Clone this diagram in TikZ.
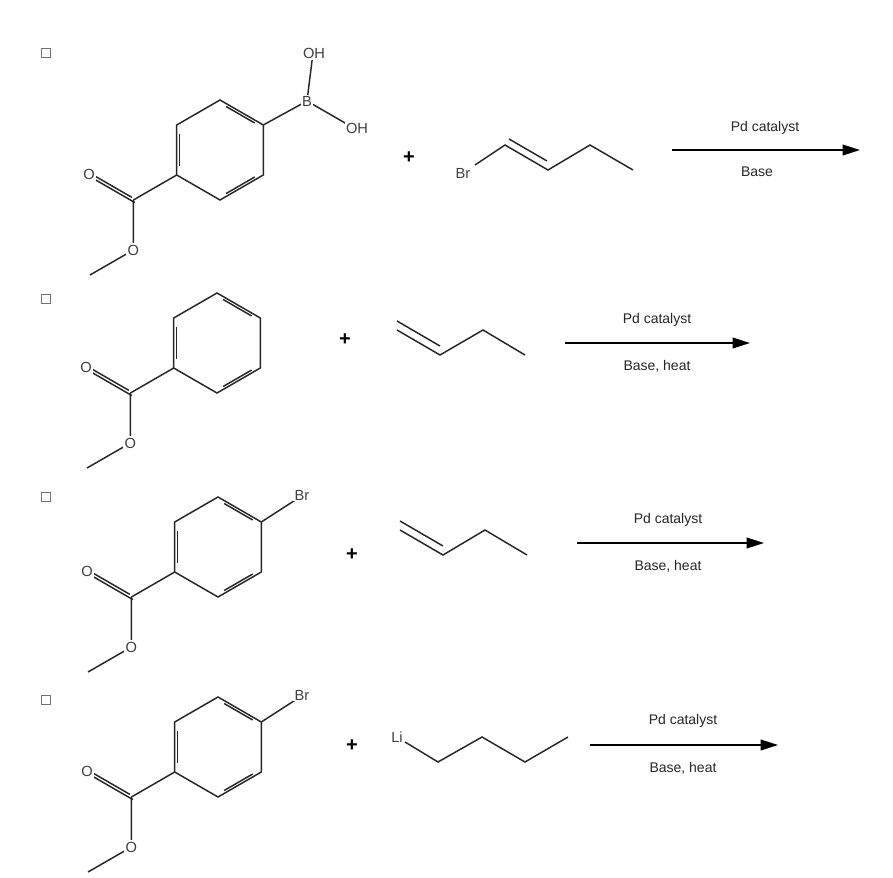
\documentclass[tikz,border=0pt]{standalone}
\usepackage{fontspec}
\setmainfont{Liberation Sans}
\usetikzlibrary{calc,arrows.meta}
\tikzset{
  bond/.style={line width=1.1pt, draw=black!85},
  atom/.style={fill=white, inner sep=1pt, text=black!75, font=\fontsize{11}{12}\selectfont},
  plus/.style={font=\fontsize{15}{16}\selectfont\bfseries},
  cond/.style={font=\fontsize{10.5}{12}\selectfont, text=black!85},
  rxn/.style={line width=1.2pt, -{Triangle[length=13pt,width=8pt]}},
  cbox/.style={draw=black!55, line width=0.9pt, minimum size=6.5pt, inner sep=0pt}
}
% #1 prefix, #2 cx, #3 cy (ring centre)
\newcommand\esterring[3]{%
  \coordinate (#1c) at (#2,#3);
  \coordinate (#1v1) at (#2,#3-50);
  \coordinate (#1v2) at (#2+43.3,#3-25);
  \coordinate (#1v3) at (#2+43.3,#3+25);
  \coordinate (#1v4) at (#2,#3+50);
  \coordinate (#1v5) at (#2-43.3,#3+25);
  \coordinate (#1v6) at (#2-43.3,#3-25);
  \draw[bond] (#1v1)--(#1v2)--(#1v3)--(#1v4)--(#1v5)--(#1v6)--cycle;
  \foreach \a/\b in {v1/v2,v3/v4,v5/v6}{
    \draw[bond] ($(#1c)!0.8!(#1\a)!0.12!(#1c)!0.8!(#1\b)$) -- ($(#1c)!0.8!(#1\b)!0.12!(#1c)!0.8!(#1\a)$);}
  \coordinate (#1cc) at (#2-86.6,#3+50);
  \coordinate (#1me) at (#2-130,#3+125);
  \draw[bond] (#1v5)--(#1cc);
  \draw[bond] (#1cc)--(#2-86.6,#3+100)--(#1me);
  \draw[bond] ([shift={(1.5,2.6)}]#1cc)--([shift={(1.5,2.6)}]#2-129.9,#3+25);
  \draw[bond] ([shift={(-1.5,-2.6)}]#1cc)--([shift={(-1.5,-2.6)}]#2-129.9,#3+25);
  \node[atom] (#1o1) at (#2-131,#3+24) {O};
  \node[atom] (#1o2) at (#2-86.6,#3+100) {O};
}
\begin{document}
\begin{tikzpicture}[x=0.75pt,y=-0.75pt]
\useasboundingbox (0,0) rectangle (893,878);
% checkboxes
\node[cbox] (k1) at (46,53) {};
\node[cbox] (k2) at (46,299) {};
\node[cbox] (k3) at (46,497) {};
\node[cbox] (k4) at (46,700) {};

% ---- Row 1
\esterring{a}{220}{150}
\coordinate (aB) at (307,101);
\draw[bond] (av2)--(aB);
\draw[bond] (aB)--(313,53);
\draw[bond] (aB)--(352,127);
\node[atom] (aBl) at (aB) {B};
\node[atom] (aOH1) at (314,53) {OH};
\node[atom] (aOH2) at (357,128) {OH};
\node[plus] (ap) at (409,158) {+};
\coordinate (a1) at (475,165);
\coordinate (a2) at (505,145);
\coordinate (a3) at (548,170);
\coordinate (a4) at (590,145);
\coordinate (a5) at (633,170);
\draw[bond] (a1)--(a2)--(a3)--(a4)--(a5);
\draw[bond] ([shift={(4,-6)}]a2)--([shift={(-1,-9)}]a3);
\node[atom] (aBr) at (463,173) {Br};
\coordinate (aA1) at (672,150); \coordinate (aA2) at (860,150);
\draw[rxn] (aA1)--(aA2);
\node[cond] (at1) at (765,128) {Pd catalyst};
\node[cond] (at2) at (757,172) {Base};

% ---- Row 2
\esterring{b}{217}{343}
\node[plus] (bp) at (345,340) {+};
\coordinate (b1) at (397,330);
\coordinate (b2) at (440,355);
\coordinate (b3) at (483,330);
\coordinate (b4) at (525,355);
\draw[bond] (b1)--(b2)--(b3)--(b4);
\draw[bond] ([shift={(0,-9)}]b1)--([shift={(0,-9)}]b2) ;
\coordinate (bA1) at (565,343); \coordinate (bA2) at (750,343);
\draw[rxn] (bA1)--(bA2);
\node[cond] (bt1) at (657,320) {Pd catalyst};
\node[cond] (bt2) at (657,366) {Base, heat};

% ---- Row 3
\esterring{c}{218}{547}
\coordinate (cBrC) at (300,497);
\draw[bond] (cv2)--(cBrC);
\node[atom] (cBr) at (302,495) {Br};
\node[plus] (cp) at (352,555) {+};
\coordinate (c1) at (400,530);
\coordinate (c2) at (443,555);
\coordinate (c3) at (485,530);
\coordinate (c4) at (527,555);
\draw[bond] (c1)--(c2)--(c3)--(c4);
\draw[bond] ([shift={(0,-9)}]c1)--([shift={(0,-9)}]c2);
\coordinate (cA1) at (577,543); \coordinate (cA2) at (764,543);
\draw[rxn] (cA1)--(cA2);
\node[cond] (ct1) at (668,520) {Pd catalyst};
\node[cond] (ct2) at (668,566) {Base, heat};

% ---- Row 4
\esterring{d}{218}{747}
\coordinate (dBrC) at (300,697);
\draw[bond] (dv2)--(dBrC);
\node[atom] (dBr) at (302,695) {Br};
\node[plus] (dp) at (352,746) {+};
\coordinate (d1) at (405,742);
\coordinate (d2) at (438,762);
\coordinate (d3) at (482,737);
\coordinate (d4) at (525,762);
\coordinate (d5) at (568,737);
\draw[bond] (d1)--(d2)--(d3)--(d4)--(d5);
\node[atom] (dLi) at (397,737) {Li};
\coordinate (dA1) at (590,745); \coordinate (dA2) at (778,745);
\draw[rxn] (dA1)--(dA2);
\node[cond] (dt1) at (683,721) {Pd catalyst};
\node[cond] (dt2) at (683,768) {Base, heat};
\end{tikzpicture}
\end{document}
